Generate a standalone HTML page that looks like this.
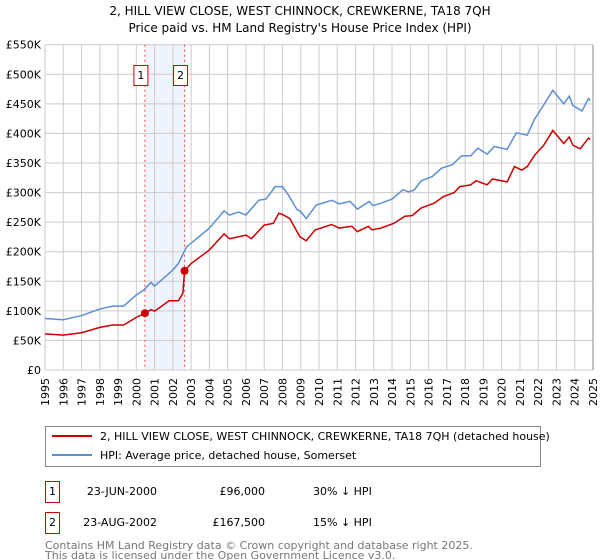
<!DOCTYPE html>
<html><head><meta charset="utf-8"><style>
body{margin:0;background:#fff;}
svg{display:block;font-family:"DejaVu Sans","Liberation Sans",sans-serif;}
</style></head><body>
<svg id="c" width="600" height="560" xmlns="http://www.w3.org/2000/svg">
<text x="300" y="15" text-anchor="middle" font-size="12">2, HILL VIEW CLOSE, WEST CHINNOCK, CREWKERNE, TA18 7QH</text>
<text x="300" y="32" text-anchor="middle" font-size="12">Price paid vs. HM Land Registry's House Price Index (HPI)</text>
<g id="grid"></g>
<g id="marks"></g>
<g>
<rect x="45.5" y="426.5" width="495" height="40" fill="#fff" stroke="#888"/>
<line x1="52" y1="436" x2="92" y2="436" stroke="#cc0000" stroke-width="2"/>
<text x="100" y="440" font-size="11">2, HILL VIEW CLOSE, WEST CHINNOCK, CREWKERNE, TA18 7QH (detached house)</text>
<line x1="52" y1="455" x2="92" y2="455" stroke="#5b8fd4" stroke-width="2"/>
<text x="100" y="459" font-size="11">HPI: Average price, detached house, Somerset</text>
</g>
<g font-size="11">
<rect x="45.5" y="481.5" width="14" height="21" fill="#fff" stroke="#cc0000"/>
<text x="52.5" y="495" text-anchor="middle">1</text>
<text x="157" y="495" text-anchor="end">23-JUN-2000</text>
<text x="265" y="495" text-anchor="end">£96,000</text>
<text x="313" y="495">30% ↓ HPI</text>
<rect x="45.5" y="512.5" width="14" height="21" fill="#fff" stroke="#cc0000"/>
<text x="52.5" y="526" text-anchor="middle">2</text>
<text x="157" y="526" text-anchor="end">23-AUG-2002</text>
<text x="265" y="526" text-anchor="end">£167,500</text>
<text x="313" y="526">15% ↓ HPI</text>
</g>
<text x="45" y="549" font-size="11" fill="#777">Contains HM Land Registry data © Crown copyright and database right 2025.</text>
<text x="45" y="559" font-size="11" fill="#777">This data is licensed under the Open Government Licence v3.0.</text>
</svg>
<script>
const yTicks=[0,50,100,150,200,250,300,350,400,450,500,550];
const yTickLabels=["£0","£50K","£100K","£150K","£200K","£250K","£300K","£350K","£400K","£450K","£500K","£550K"];
const years=[1995,1996,1997,1998,1999,2000,2001,2002,2003,2004,2005,2006,2007,2008,2009,2010,2011,2012,2013,2014,2015,2016,2017,2018,2019,2020,2021,2022,2023,2024,2025];
const hpiT=[1995.0,1996.0,1997.0,1998.0,1998.7,1999.3,2000.0,2000.4,2000.8,2001.0,2002.0,2002.3,2002.75,2003.1,2004.0,2004.8,2005.1,2005.6,2006.0,2006.7,2007.1,2007.6,2008.0,2008.3,2008.8,2009.0,2009.3,2009.85,2010.7,2011.1,2011.7,2012.1,2012.75,2012.95,2013.4,2014.0,2014.6,2014.9,2015.2,2015.6,2016.2,2016.7,2017.3,2017.8,2018.3,2018.7,2019.2,2019.6,2020.3,2020.8,2021.4,2021.8,2022.3,2022.8,2023.4,2023.7,2023.9,2024.4,2024.75,2024.85];
const hpiV=[87,85,92,103,108,108,127,135,148,142,169,180,208,217,240,269,262,267,262,287,289,310,310,297,271,268,256,279,287,281,285,272,285,278,282,289,305,301,304,320,327,341,347,362,362,375,365,378,373,401,397,424,448,473,450,463,447,438,459,456];
const priceT=[1995.0,1996.0,1997.0,1998.0,1998.7,1999.3,2000.0,2000.47,2000.8,2001.0,2001.8,2002.3,2002.55,2002.64,2003.0,2004.0,2004.8,2005.1,2006.0,2006.3,2007.0,2007.5,2007.8,2008.0,2008.4,2008.96,2009.3,2009.78,2010.69,2011.1,2011.8,2012.1,2012.7,2012.9,2013.4,2014.1,2014.7,2015.1,2015.6,2016.3,2016.8,2017.4,2017.7,2018.3,2018.6,2019.2,2019.5,2020.3,2020.7,2021.1,2021.4,2021.8,2022.3,2022.8,2023.4,2023.7,2023.9,2024.3,2024.75,2024.85];
const priceV=[61,59,63,72,76,76,89,96,102,99.5,117,117,130,167.5,180,203,230,222,228,222,245,248,265,263,256,225,218.6,236.7,246,240,243,233.8,243,237,240,248,260,261,274,282,293,300,310,313,320,313,323,318,344,338,344,363,380,405,383,394,380,374,392,390];
const saleT=[2000.47,2002.64];
const saleV=[96,167.5];
const saleLabels=["1","2"];
const NS="http://www.w3.org/2000/svg";
const X0=45,X1=593,Y0=370,Y1=44.7;
const x=t=>X0+(t-1995)/(2025-1995)*(X1-X0);
const y=v=>Y0-v/550*(Y0-Y1);
function mk(tag,attrs,parent){const e=document.createElementNS(NS,tag);for(const k in attrs)e.setAttribute(k,attrs[k]);parent.appendChild(e);return e;}
const grid=document.getElementById('grid'),marks=document.getElementById('marks');
const sh=mk('rect',{x:x(saleT[0]),y:Y1,width:x(saleT[1])-x(saleT[0]),height:Y0-Y1,fill:'#eef3fc'},grid);


yTicks.forEach((v,i)=>{
  const l=mk('line',{x1:X0,x2:X1,y1:y(v),y2:y(v),stroke:'#cccccc','stroke-width':1},grid);
  
  
  const t=mk('text',{x:X0-4,y:y(v)+4,'text-anchor':'end','font-size':11},grid);
  t.textContent=yTickLabels[i];
  
  
});
years.forEach(yr=>{
  const l=mk('line',{x1:x(yr),x2:x(yr),y1:Y1,y2:Y0,stroke:'#cccccc','stroke-width':1},grid);
  
  
  const t=mk('text',{x:0,y:0,'text-anchor':'end','font-size':11,transform:`translate(${x(yr)+4},${Y0+8}) rotate(-90)`},grid);
  t.textContent=yr;
  
  
});
saleT.forEach((t,i)=>{
  const l=mk('line',{x1:x(t),x2:x(t),y1:Y1,y2:Y0,stroke:'#ee4444','stroke-width':1,'stroke-dasharray':'2,3'},grid);
  
  
  const b=mk('rect',{x:x(t)-10-1,y:65.5,width:14,height:20,fill:'#fff',stroke:'#cc0000'},grid);
  
  
  const tx=mk('text',{x:x(t)-4,y:79,'text-anchor':'middle','font-size':11},grid);
  tx.textContent=saleLabels[i];
  
  
});
const hp=mk('polyline',{points:hpiT.map((t,i)=>x(t)+','+y(hpiV[i])).join(' '),fill:'none',stroke:'#5b8fd4','stroke-width':1.5},marks);


const pp=mk('polyline',{points:priceT.map((t,i)=>x(t)+','+y(priceV[i])).join(' '),fill:'none',stroke:'#cc0000','stroke-width':1.5},marks);


saleT.forEach((t,i)=>{
  const c=mk('circle',{cx:x(t),cy:y(saleV[i]),r:4,fill:'#cc0000'},marks);
  
  
});
const ax=mk('line',{x1:X1,x2:X1,y1:Y1,y2:Y0,stroke:'#888','stroke-width':1},marks);


</script>
</body></html>
